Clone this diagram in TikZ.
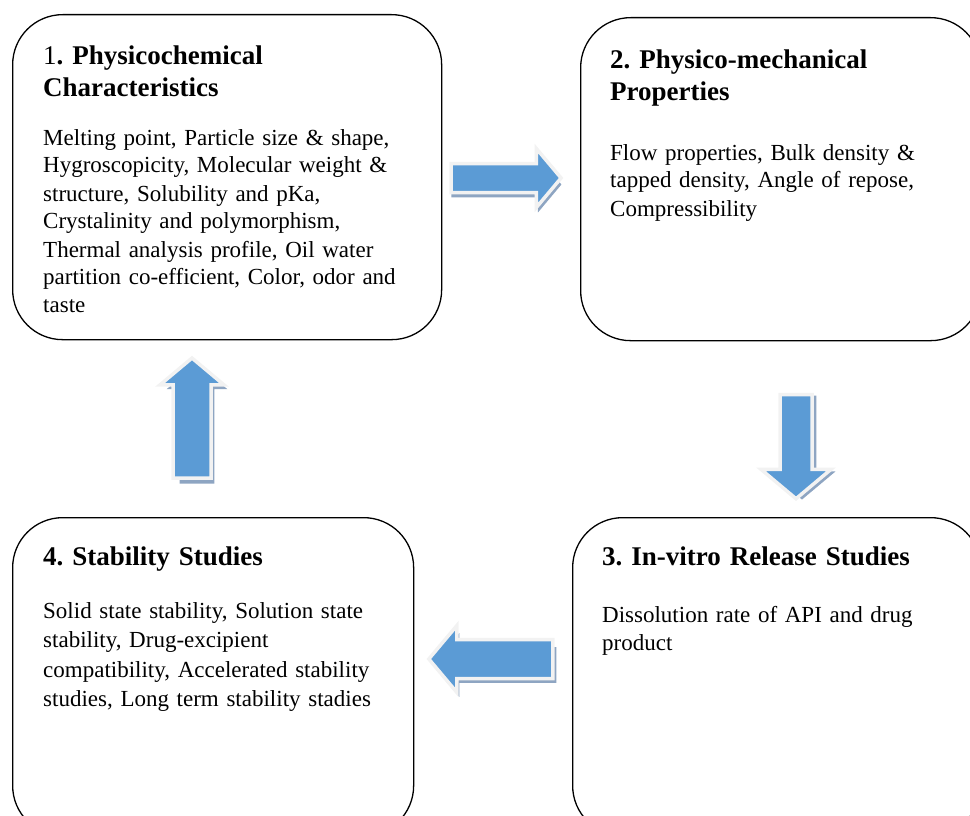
\documentclass[tikz,border=0pt]{standalone}
\usepackage{fontspec}
\setmainfont{Liberation Serif}
\usetikzlibrary{calc,positioning,shapes.arrows}
\definecolor{Ink}{HTML}{000000}
\definecolor{ArrowBlue}{HTML}{5B9BD5}
\definecolor{ArrowRim}{HTML}{F2F2F2}
\definecolor{ArrowShade}{HTML}{8EA5C2}
\tikzset{
  stage/.style={
    draw=Ink, line width=1.3pt, rounded corners=50pt,
    anchor=north west, inner sep=0pt
  },
  heading/.style={
    anchor=base west, inner sep=0pt, text width=390pt, align=left,
    font=\fontsize{27}{32}\selectfont\bfseries
  },
  detail/.style={
    anchor=base west, inner sep=0pt, text width=390pt, align=left,
    font=\fontsize{23}{28}\selectfont
  },
  bigarrow/.style n args={4}{
    single arrow, single arrow tip angle=100, inner xsep=0pt,
    inner ysep=#3, single arrow head extend=#4, minimum height=#2, rotate=#1
  },
  arrowfill/.style={fill=ArrowBlue, draw=ArrowRim, line width=3.5pt},
  castshadow/.style={fill=ArrowShade}
}
\begin{document}
\frenchspacing
\begin{tikzpicture}[x=1pt,y=-1pt]
    \useasboundingbox (0,0) rectangle (970,816);
    % the four stages
    \node[stage,minimum width=429,minimum height=325] (b1) at (12,14) {};
    \node[stage,minimum width=400,minimum height=323] (b2) at (580,17) {};
    \node[stage,minimum width=408,minimum height=318] (b3) at (572,517) {};
    \node[stage,minimum width=401,minimum height=318] (b4) at (12,517) {};
    \node[heading] (t1) at ($(b1.north west)+(31,51)$) {\textmd{1}. Physicochemical\\Characteristics};
    \node[detail] (d1) at ($(b1.north west)+(31,131)$) {Melting point, Particle size \& shape,\\Hygroscopicity, Molecular weight \&\\structure, Solubility and pKa,\\Crystalinity and polymorphism,\\Thermal analysis profile, Oil water\\partition co-efficient, Color, odor and\\taste};
    \node[heading] (t2) at ($(b2.north west)+(30,52)$) {2. Physico-mechanical\\Properties};
    \node[detail] (d2) at ($(b2.north west)+(30,143)$) {Flow properties, Bulk density \&\\tapped density, Angle of repose,\\Compressibility};
    \node[heading] (t3) at ($(b3.north west)+(30,48)$) {3. In-vitro Release Studies};
    \node[detail] (d3) at ($(b3.north west)+(30,105)$) {Dissolution rate of API and drug\\product};
    \node[heading] (t4) at ($(b4.north west)+(31,48)$) {4. Stability Studies};
    \node[detail,font=\fontsize{23}{29.5}\selectfont] (d4) at ($(b4.north west)+(31,101)$) {Solid state stability, Solution state\\stability, Drug-excipient\\compatibility, Accelerated stability\\studies, Long term stability stadies};
    % block arrows between the stages
    \coordinate (c12) at (500,178);
    \coordinate (c23) at (796,440);
    \coordinate (c34) at (499,659);
    \coordinate (c41) at (192,426);
    \node[bigarrow={0}{110}{12.75}{15},castshadow] (s12) at ($(c12)+(1,6.5)$) {};
    \node[bigarrow={0}{110}{12.75}{15},arrowfill] (a12) at (c12) {};
    \node[bigarrow={270}{104}{14.25}{19},castshadow] (s23) at ($(c23)+(6,1.5)$) {};
    \node[bigarrow={270}{104}{14.25}{19},arrowfill] (a23) at (c23) {};
    \node[bigarrow={180}{124}{17.75}{14},castshadow] (s34) at ($(c34)+(3,6)$) {};
    \node[bigarrow={180}{124}{17.75}{14},arrowfill] (a34) at (c34) {};
    \node[bigarrow={90}{120}{17.25}{13},castshadow] (s41) at ($(c41)+(5,5)$) {};
    \node[bigarrow={90}{120}{17.25}{13},arrowfill] (a41) at (c41) {};
\end{tikzpicture}
\end{document}
